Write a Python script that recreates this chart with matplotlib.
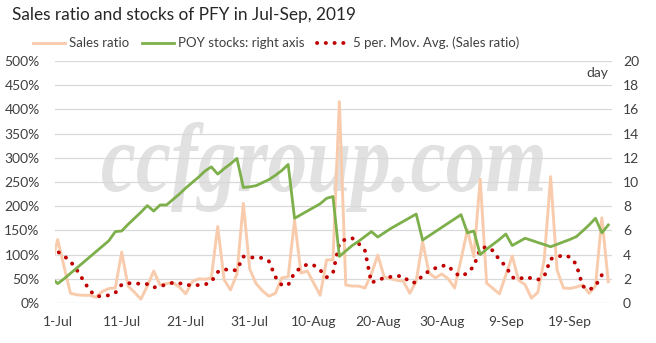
import matplotlib.pyplot as plt
import pandas as pd
from matplotlib.textpath import TextPath
from matplotlib.patches import PathPatch
from matplotlib.font_manager import FontProperties
from matplotlib.transforms import Affine2D

plt.rcParams['font.family'] = ['Lato', 'DejaVu Sans']

# daily series, 30-Jun .. 25-Sep 2019
dates = pd.date_range('2019-06-30', '2019-09-25')

sales_ratio = [78,
               131, 75, 20, 17, 16, 16, 12, 24, 30, 31,
               105, 35, 22, 8, 35, 66, 37, 40, 42, 33,
               19, 44, 50, 49, 52, 158, 48, 27, 60, 206,
               70, 40, 25, 14, 20, 52, 54, 171, 62, 66,
               41, 16, 89, 89, 416, 37, 35, 35, 31, 60,
               99, 54, 50, 47, 45, 20, 45, 127, 62, 52,
               60, 50, 31, 90, 151, 96, 256, 41, 30, 19,
               58, 97, 47, 38, 10, 22, 90, 261, 68, 31,
               30, 33, 37, 20, 35, 176, 44]

poy_stocks = [2.1,
              1.6, 2.0, 2.45, 2.9, 3.35, 3.8, 4.25, 4.7, 5.15, 5.9,
              5.95, 6.5, 7.0, 7.5, 8.05, 7.6, 8.1, 8.1, 8.55, 9.0,
              9.5, 9.95, 10.4, 10.9, 11.25, 10.65, 11.1, 11.5, 11.95, 9.55,
              9.6, 9.7, 9.95, 10.2, 10.55, 10.95, 11.45, 7.0, 7.3, 7.6,
              7.9, 8.2, 8.65, 8.8, 3.85, 4.3, 4.75, 5.1, 5.5, 5.9,
              5.45, 5.8, 6.15, 6.45, 6.75, 7.05, 7.35, 5.2, 5.55, 5.9,
              6.25, 6.6, 6.95, 7.3, 5.8, 5.95, 4.0, 4.45, 4.85, 5.25,
              5.7, 4.75, 5.05, 5.35, 5.18, 5.0, 4.83, 4.65, 4.85, 5.05,
              5.25, 5.48, 5.95, 6.45, 7.0, 5.8, 6.45]

sales_ma5 = [114,
             106, 97, 86, 68, 47, 26, 14, 14, 16, 21,
             38, 41, 40, 40, 39, 32, 35, 38, 42, 41,
             37, 37, 37, 38, 44, 64, 70, 67, 68, 96,
             94, 94, 93, 86, 54, 37, 37, 63, 73, 80,
             78, 68, 53, 62, 124, 132, 134, 123, 108, 42,
             47, 52, 54, 56, 55, 43, 42, 57, 66, 72,
             77, 77, 62, 55, 62, 76, 112, 116, 108, 89,
             76, 53, 49, 54, 51, 48, 55, 91, 95, 99,
             95, 80, 35, 27, 35, 58, 66]

tick_dates = pd.date_range('2019-07-01', periods=9, freq='10D')
tick_labels = ['1-Jul', '11-Jul', '21-Jul', '31-Jul', '10-Aug',
               '20-Aug', '30-Aug', '9-Sep', '19-Sep']

txt = '#404040'
fig = plt.figure(figsize=(6.56, 3.43), dpi=100)
ax = fig.add_axes([55 / 656, 40 / 343, 557 / 656, 242 / 343])

l1, = ax.plot(dates, sales_ratio, color='#F8CBAD', lw=2.1, label='Sales ratio')
l3, = ax.plot(dates, sales_ma5, color='#C00000', lw=2.8,
              linestyle=(0, (0.05, 2.2)), dash_capstyle='round',
              label='5 per. Mov. Avg. (Sales ratio)')

ax2 = ax.twinx()
l2, = ax2.plot(dates, poy_stocks, color='#7DAF4B', lw=2.0,
               label='POY stocks: right axis')

ax.set_xlim(pd.Timestamp('2019-07-01') - pd.Timedelta(hours=10),
            pd.Timestamp('2019-09-25') + pd.Timedelta(hours=14))
ax.set_ylim(0, 500)
ax.set_yticks(range(0, 501, 50))
ax.set_yticklabels([f'{v}%' for v in range(0, 501, 50)])
ax2.set_ylim(0, 20)
ax2.set_yticks(range(0, 21, 2))
ax.set_xticks(tick_dates)
ax.set_xticklabels(tick_labels)

ax.grid(axis='y', color='#D9D9D9', lw=0.9)
ax.set_axisbelow(True)
for a in (ax, ax2):
    for s in a.spines.values():
        s.set_visible(False)
ax.tick_params(axis='y', length=0, pad=11, labelsize=10, labelcolor=txt)
ax.tick_params(axis='x', length=0, pad=9, labelsize=10, labelcolor=txt)
ax2.tick_params(axis='y', length=0, pad=8, labelsize=10, labelcolor=txt)

ax2.text(0.993, 0.95, 'day', transform=ax.transAxes, ha='right', va='center',
         fontsize=10, color=txt)

# watermark, squeezed into its box behind the grid
wm = TextPath((0, 0), 'ccfgroup.com', size=1,
              prop=FontProperties(family='Liberation Serif', style='italic', weight='bold'))
bb = wm.get_extents()
x0, x1, y0, y1 = 102, 543, 343 - 212, 343 - 122
tr = (Affine2D().translate(-bb.x0, -bb.y0)
      .scale((x1 - x0) / bb.width, (y1 - y0) / bb.height)
      .translate(x0, y0))
ax.add_patch(PathPatch(wm, transform=tr, facecolor='#E1E1E1', edgecolor='none', zorder=0))

fig.text(0.018, 0.955, 'Sales ratio and stocks of PFY in Jul-Sep, 2019',
         fontsize=12.4, color='#262626', ha='left', va='center')
fig.legend(handles=[l1, l2, l3], loc='center', bbox_to_anchor=(276 / 656, 1 - 43 / 343),
           ncol=3, frameon=False, fontsize=9.5, handlelength=2.45, handletextpad=0.3,
           columnspacing=0.95, labelcolor=txt)

fig.savefig('out.png', dpi=100)
